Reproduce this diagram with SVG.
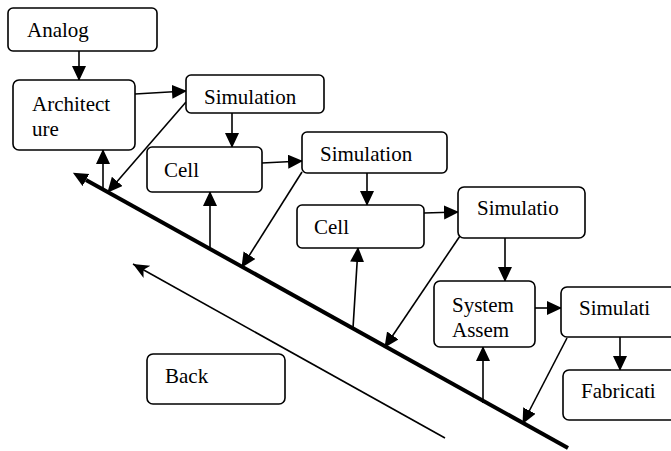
<svg xmlns="http://www.w3.org/2000/svg" width="671" height="451" viewBox="0 0 671 451">
<style>
.box{fill:#fff;stroke:#000;stroke-width:1.6}
text{font-family:"Liberation Serif",serif;font-size:21px;fill:#000}
.c{stroke:#000;stroke-width:1.6;fill:none}
</style>
<defs>
<marker id="ah" markerUnits="userSpaceOnUse" markerWidth="16" markerHeight="16" refX="14" refY="7" orient="auto" viewBox="0 0 16 16">
<path d="M0,0 L15,7 L0,14 z" fill="#000"/>
</marker>
<marker id="big" markerUnits="userSpaceOnUse" markerWidth="16" markerHeight="16" refX="0" refY="7" orient="auto" viewBox="0 0 16 16">
<path d="M0,0 L15,7 L0,14 z" fill="#000"/>
</marker>
<marker id="st" markerUnits="userSpaceOnUse" markerWidth="18" markerHeight="16" refX="16" refY="7" orient="auto" viewBox="0 0 18 16">
<path d="M0,0 L16,7 L0,14 L4,7 z" fill="#000"/>
</marker>
</defs>
<g id="connectors">
<line class="c" x1="568" y1="448" x2="86" y2="180" style="stroke-width:4" marker-end="url(#big)"/>
<line class="c" x1="445" y1="438" x2="133" y2="264" marker-end="url(#st)"/>
<line class="c" x1="79" y1="51" x2="79" y2="80" marker-end="url(#ah)"/>
<line class="c" x1="135" y1="94" x2="186" y2="91" marker-end="url(#ah)"/>
<line class="c" x1="232" y1="113" x2="232" y2="147" marker-end="url(#ah)"/>
<line class="c" x1="262" y1="163" x2="302" y2="161" marker-end="url(#ah)"/>
<line class="c" x1="367" y1="173" x2="367" y2="205" marker-end="url(#ah)"/>
<line class="c" x1="424" y1="213" x2="458" y2="212" marker-end="url(#ah)"/>
<line class="c" x1="505" y1="238" x2="505" y2="281" marker-end="url(#ah)"/>
<line class="c" x1="535" y1="308" x2="561" y2="308" marker-end="url(#ah)"/>
<line class="c" x1="620" y1="337" x2="620" y2="370" marker-end="url(#ah)"/>
<line class="c" x1="103" y1="190" x2="103" y2="150" marker-end="url(#ah)"/>
<line class="c" x1="210" y1="249" x2="210" y2="192" marker-end="url(#ah)"/>
<line class="c" x1="353" y1="328" x2="358" y2="248" marker-end="url(#ah)"/>
<line class="c" x1="483" y1="403" x2="483" y2="347" marker-end="url(#ah)"/>
<line class="c" x1="186" y1="102" x2="108" y2="192" marker-end="url(#ah)"/>
<line class="c" x1="302" y1="172" x2="242" y2="267" marker-end="url(#ah)"/>
<line class="c" x1="462" y1="233" x2="385" y2="347" marker-end="url(#ah)"/>
<line class="c" x1="567" y1="338" x2="523" y2="423" marker-end="url(#ah)"/>
</g>
<g id="analog"><rect class="box" x="8" y="8" width="149" height="43" rx="5"/><text x="27" y="37">Analog</text></g>
<g id="architecture"><rect class="box" x="13" y="80" width="122" height="70" rx="6"/><text x="32" y="111">Architect</text><text x="32" y="136">ure</text></g>
<g id="sim1"><rect class="box" x="186" y="75" width="138" height="38" rx="5"/><text x="204" y="104">Simulation</text></g>
<g id="cell1"><rect class="box" x="147" y="147" width="115" height="45" rx="5"/><text x="164" y="177">Cell</text></g>
<g id="sim2"><rect class="box" x="302" y="132" width="145" height="41" rx="5"/><text x="320" y="161">Simulation</text></g>
<g id="cell2"><rect class="box" x="297" y="205" width="127" height="43" rx="5"/><text x="314" y="234">Cell</text></g>
<g id="sim3"><rect class="box" x="458" y="187" width="127" height="51" rx="6"/><text x="477" y="215">Simulatio</text></g>
<g id="system"><rect class="box" x="434" y="281" width="101" height="66" rx="6"/><text x="452" y="312">System</text><text x="452" y="337">Assem</text></g>
<g id="sim4"><rect class="box" x="561" y="287" width="130" height="50" rx="6"/><text x="579" y="315">Simulati</text></g>
<g id="fab"><rect class="box" x="563" y="370" width="130" height="50" rx="6"/><text x="581" y="398">Fabricati</text></g>
<g id="back"><rect class="box" x="147" y="354" width="138" height="50" rx="6"/><text x="165" y="383">Back</text></g>
</svg>
